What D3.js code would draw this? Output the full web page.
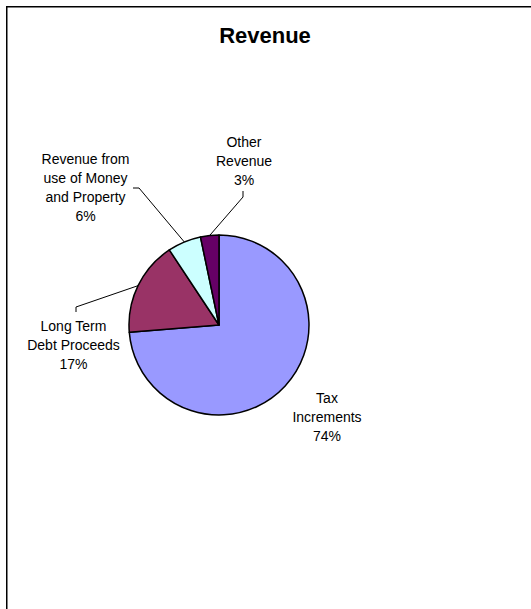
<!DOCTYPE html>
<html>
<head>
<meta charset="utf-8">
<script src="https://cdn.jsdelivr.net/npm/d3@7"></script>
<style>
  body { margin: 0; background: #fff; }
  text { font-family: "Liberation Sans", Arial, sans-serif; }
</style>
</head>
<body>
<div id="chart"></div>
<script>
// Revenue pie

const categories = ["Tax Increments", "Long Term Debt Proceeds", "Revenue from use of Money and Property", "Other Revenue"];
const labelLines = [
  ["Tax", "Increments"],
  ["Long Term", "Debt Proceeds"],
  ["Revenue from", "use of Money", "and Property"],
  ["Other", "Revenue"]
];
const values = [73.7, 17.0, 6.0, 3.3];
const colors = ["#9999ff", "#993366", "#ccffff", "#660066"];

const w = 531, h = 609;
const cx = 219, cy = 325, r = 90;

// label placement relative to pie centre: [x, first baseline y]
const labelPos = [[108, 78], [-145.5, 6], [-133.5, -161], [25, -178]];
// leader lines: start and elbow, relative to centre (null = none)
const leaders = [
  null,
  [[-143, -13], [-143, -18]],
  [[-86, -137], [-80, -137]],
  [[24, -134], [24, -128]]
];

const svg = d3.select("#chart").append("svg")
  .attr("width", w)
  .attr("height", h);

svg.append("rect")
  .attr("x", 6.75).attr("y", 6.75)
  .attr("width", 560).attr("height", 640)
  .attr("fill", "none")
  .attr("stroke", "#000")
  .attr("stroke-width", 1.5);

svg.append("text")
  .attr("x", 265).attr("y", 43)
  .attr("text-anchor", "middle")
  .attr("font-size", "22px")
  .attr("font-weight", "bold")
  .text("Revenue");

const total = d3.sum(values);
const pie = d3.pie().sort(null).value(d => d)(values);
const arc = d3.arc().innerRadius(0).outerRadius(r);

const g = svg.append("g").attr("transform", `translate(${cx},${cy})`);

g.selectAll("path")
  .data(pie)
  .enter().append("path")
    .attr("d", arc)
    .attr("fill", (d, i) => colors[i])
    .attr("stroke", "#000")
    .attr("stroke-width", 1.5)
    .attr("stroke-linejoin", "round");

// leader lines
pie.forEach((d, i) => {
  if (!leaders[i]) return;
  const a = (d.startAngle + d.endAngle) / 2;
  const end = [r * Math.sin(a), -r * Math.cos(a)];
  g.append("path")
    .attr("d", d3.line()([leaders[i][0], leaders[i][1], end]))
    .attr("fill", "none")
    .attr("stroke", "#000")
    .attr("stroke-width", 1);
});

// labels
pie.forEach((d, i) => {
  const lines = labelLines[i].concat(Math.round(d.data / total * 100) + "%");
  const t = g.append("text")
    .attr("text-anchor", "middle")
    .attr("font-size", "14px")
    .attr("fill", "#000");
  lines.forEach((s, k) => {
    t.append("tspan")
      .attr("x", labelPos[i][0])
      .attr("y", labelPos[i][1] + k * 19)
      .text(s);
  });
});
</script>
</body>
</html>
